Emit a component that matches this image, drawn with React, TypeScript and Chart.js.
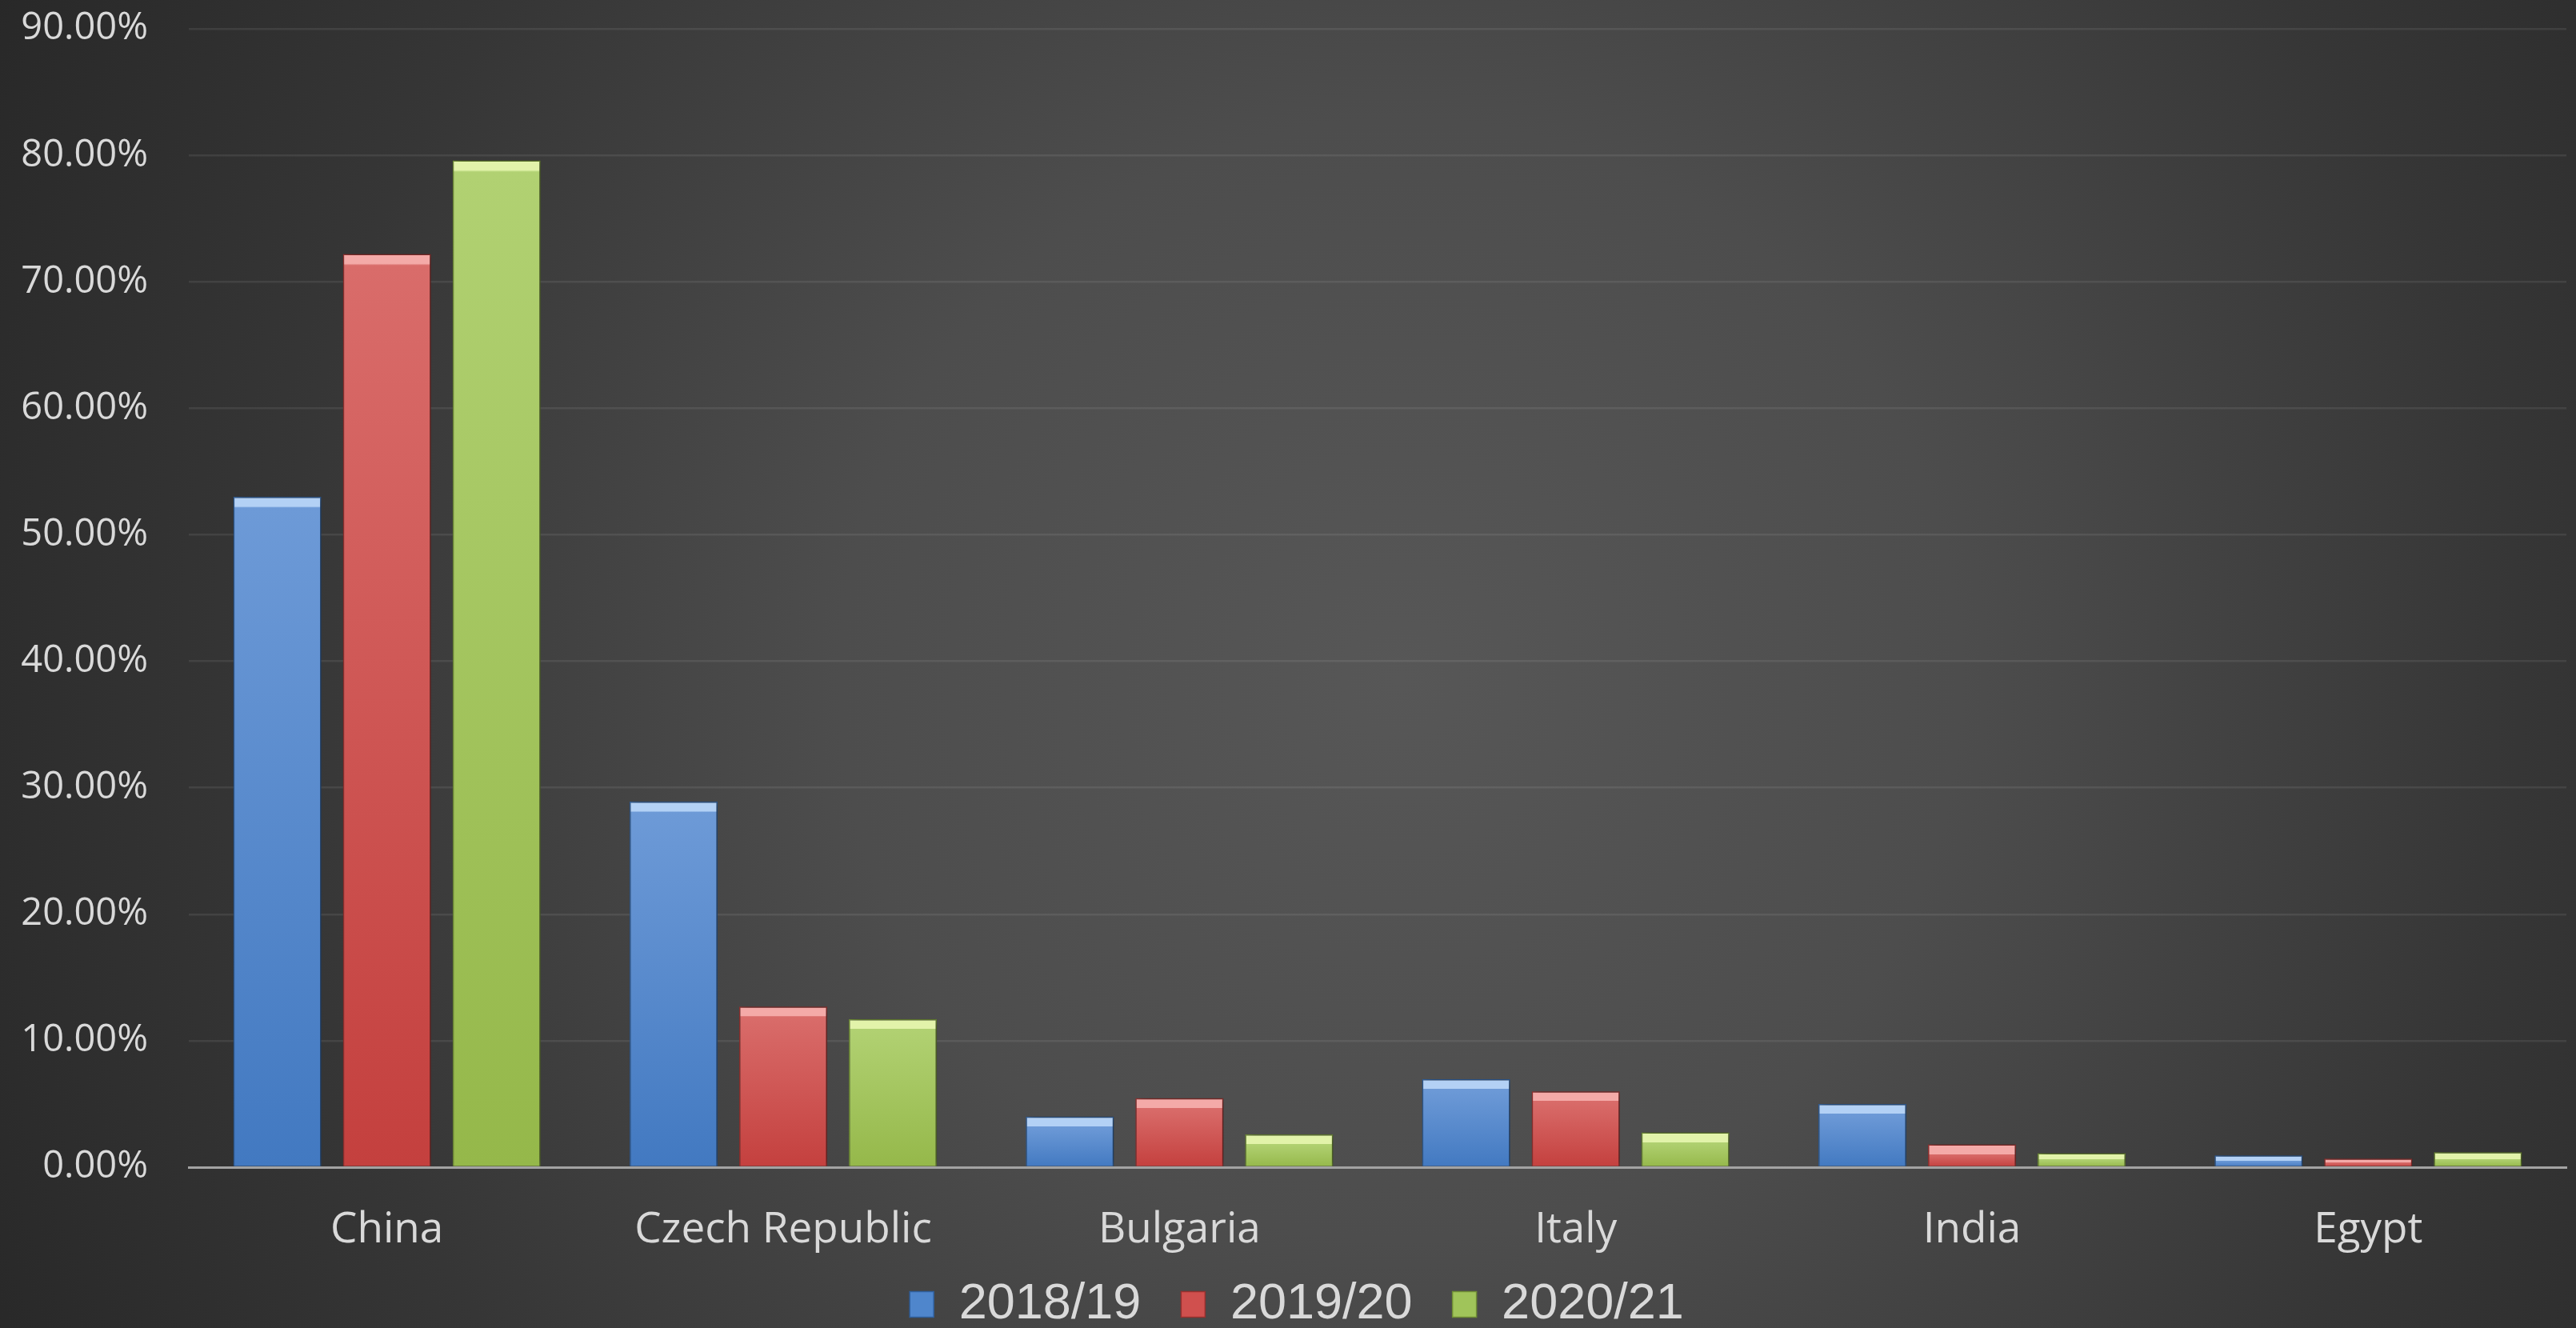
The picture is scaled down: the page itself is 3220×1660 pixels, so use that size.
import { useEffect, useRef } from 'react';
import { Chart, registerables } from 'chart.js';

Chart.register(...registerables);

const categories = ['China', 'Czech Republic', 'Bulgaria', 'Italy', 'India', 'Egypt'];
const seriesNames = ['2018/19', '2019/20', '2020/21'];
const values2018 = [53.0, 28.9, 4.0, 6.95, 5.0, 0.93];
const values2019 = [72.2, 12.7, 5.45, 6.0, 1.8, 0.68];
const values2020 = [79.6, 11.7, 2.6, 2.75, 1.1, 1.18];
const yMax = 90;
const yStep = 10;

// [bevel, top, bottom, border, legend]
const palettes = [
  ['#b3d1f5', '#6d9ad7', '#4279c1', '#2f5f9c', '#4f86cc'],
  ['#f4aaa8', '#d96c6a', '#c4403e', '#97302e', '#d0504e'],
  ['#e2f3aa', '#b1d172', '#95b84a', '#6f8d34', '#a0c45a'],
];

function makeFill(p: string[]) {
  return (ctx: any) => {
    const chart = ctx.chart;
    if (!chart.chartArea || ctx.type !== 'data') return p[4];
    const ys = chart.scales.y;
    const top = ys.getPixelForValue(ctx.raw);
    const base = ys.getPixelForValue(0);
    const h = Math.max(base - top, 1);
    const g = chart.ctx.createLinearGradient(0, top, 0, base);
    const b = Math.min(12 / h, 0.45);
    g.addColorStop(0, p[0]);
    g.addColorStop(b, p[0]);
    g.addColorStop(Math.min(b + 0.002, 1), p[1]);
    g.addColorStop(1, p[2]);
    return g;
  };
}

const bgPlugin = {
  id: 'bgPlugin',
  beforeDraw(chart: any) {
    const { ctx, width, height } = chart;
    ctx.save();
    const g = ctx.createRadialGradient(1750, 850, 0, 1750, 850, 2000);
    g.addColorStop(0, '#575757');
    g.addColorStop(0.35, '#4d4d4d');
    g.addColorStop(0.7, '#363636');
    g.addColorStop(1, '#272727');
    ctx.fillStyle = g;
    ctx.fillRect(0, 0, width, height);
    ctx.restore();
  },
};

const shadowPlugin = {
  id: 'shadowPlugin',
  beforeDatasetsDraw(chart: any) {
    const ctx = chart.ctx;
    ctx.save();
    ctx.shadowColor = 'rgba(0,0,0,0.45)';
    ctx.shadowBlur = 10;
    ctx.shadowOffsetX = 4;
    ctx.shadowOffsetY = 0;
  },
  afterDatasetsDraw(chart: any) {
    chart.ctx.restore();
  },
};

// nudge the legend row to sit where the reference places it
const legendShiftPlugin = {
  id: 'legendShift',
  afterLayout(chart: any) {
    const lg = chart.legend;
    if (!lg) return;
    lg.top -= 22;
    lg.bottom -= 22;
    lg.left += 17;
    lg.right += 17;
  },
};

export default function App() {
  const ref = useRef<HTMLCanvasElement | null>(null);
  useEffect(() => {
    document.body.style.margin = '0';
    document.body.style.overflow = 'hidden';
    const canvas = ref.current;
    if (!canvas) return;
    const seriesValues = [values2018, values2019, values2020];
    const chart = new Chart(canvas, {
      type: 'bar',
      data: {
        labels: categories,
        datasets: seriesNames.map((name, i) => ({
          label: name,
          data: seriesValues[i],
          backgroundColor: makeFill(palettes[i]),
          borderColor: palettes[i][3],
          borderWidth: 1.5,
          borderSkipped: 'bottom',
          categoryPercentage: 0.83,
          barPercentage: 0.803,
        })),
      },
      options: {
        animation: false,
        responsive: false,
        devicePixelRatio: 1,
        layout: { padding: { left: 0, right: 12, top: 36, bottom: 0 } },
        plugins: {
          tooltip: { enabled: false },
          legend: {
            position: 'bottom',
            labels: {
              color: '#d9d9d9',
              font: { family: '"Liberation Sans", Arial, sans-serif', size: 63 },
              boxWidth: 30,
              boxHeight: 32,
              padding: 50,
              generateLabels: (c: any) => {
                const items = Chart.defaults.plugins.legend.labels.generateLabels(c);
                items.forEach((it: any, i: number) => {
                  it.fillStyle = palettes[i][4];
                  it.strokeStyle = palettes[i][3];
                  it.lineWidth = 1.5;
                });
                return items;
              },
            },
          },
        },
        scales: {
          x: {
            afterFit: (scale: any) => {
              scale.height = 112;
            },
            grid: { display: false, drawTicks: false },
            border: { display: true, color: '#a3a3a3', width: 3 },
            ticks: {
              color: '#d9d9d9',
              padding: 47,
              font: { family: '"Open Sans", sans-serif', size: 53 },
              maxRotation: 0,
            },
          },
          y: {
            min: 0,
            max: yMax,
            afterFit: (scale: any) => {
              scale.width = 236;
              scale.paddingTop = 0;
              scale.paddingBottom = 0;
            },
            grid: { color: 'rgba(255,255,255,0.08)', lineWidth: 2.5, drawTicks: false },
            border: { display: false },
            ticks: {
              stepSize: yStep,
              color: '#d9d9d9',
              padding: 51,
              font: { family: '"Open Sans", sans-serif', size: 47 },
              callback: (v: any) => Number(v).toFixed(2) + '%',
            },
          },
        },
      },
      plugins: [bgPlugin, shadowPlugin, legendShiftPlugin],
    });
    return () => chart.destroy();
  }, []);
  return (
    <div style={{ position: 'fixed', left: 0, top: 0, width: 3220, height: 1694, overflow: 'hidden' }}>
      <canvas ref={ref} width={3220} height={1694} style={{ display: 'block', width: 3220, height: 1694 }} />
    </div>
  );
}
